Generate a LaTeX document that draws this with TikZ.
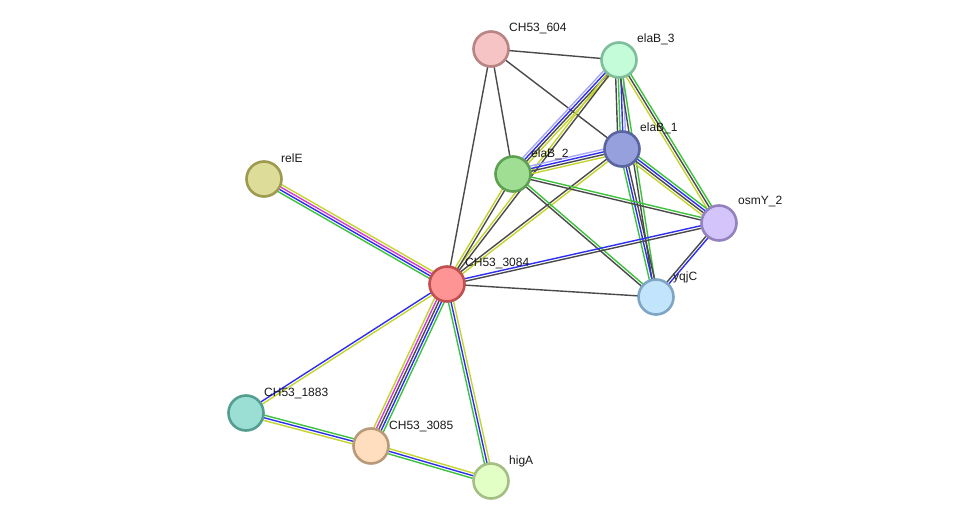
\documentclass[tikz,border=0pt]{standalone}
\usepackage{fontspec}
\setmainfont{Liberation Sans}
\usetikzlibrary{calc,backgrounds}

\definecolor{blk}{HTML}{4A4A4A}
\definecolor{yel}{HTML}{C4D42E}
\definecolor{grn}{HTML}{3CC23C}
\definecolor{blu}{HTML}{2E2EF2}
\definecolor{mag}{HTML}{D23CD2}
\definecolor{hom}{HTML}{A8A8FA}

\tikzset{
  prot/.style={circle, minimum size=35pt, inner sep=0pt, line width=2.6pt},
  lbl/.style={anchor=west, inner sep=0pt, font=\fontsize{12}{14}\selectfont, text=black!90},
  evid/.style={line width=1.4pt},
}

% #1,#2: nodes, #3: list of evidence colours
\newcommand{\ppi}[3]{%
  \foreach \c [count=\k] in {#3} {\xdef\nk{\k}}%
  \foreach \c [count=\k] in {#3} {%
    \pgfmathsetmacro{\off}{((\nk+1)/2-\k)*2.6}%
    \draw[evid, \c] ($(#1)!\off pt!90:(#2)$) -- ($(#2)!\off pt!-90:(#1)$);
  }}

\begin{document}
\begin{tikzpicture}[x=1pt, y=-1pt]
\useasboundingbox (0,0) rectangle (975,527);

\node[prot, fill={rgb,255:red,246;green,196;blue,196}, draw={rgb,255:red,184;green,132;blue,132}] (c604) at (491,49) {};
\node[prot, fill={rgb,255:red,196;green,252;blue,218}, draw={rgb,255:red,126;green,190;blue,154}] (elaB3) at (619,60) {};
\node[prot, fill={rgb,255:red,150;green,160;blue,220}, draw={rgb,255:red,90;green,100;blue,160}] (elaB1) at (622,149) {};
\node[prot, fill={rgb,255:red,160;green,222;blue,148}, draw={rgb,255:red,94;green,160;blue,82}] (elaB2) at (513,174) {};
\node[prot, fill={rgb,255:red,222;green,220;blue,153}, draw={rgb,255:red,158;green,154;blue,80}] (relE) at (264,179) {};
\node[prot, fill={rgb,255:red,212;green,196;blue,252}, draw={rgb,255:red,148;green,130;blue,190}] (osmY2) at (719,223) {};
\node[prot, fill={rgb,255:red,255;green,148;blue,148}, draw={rgb,255:red,192;green,80;blue,80}] (c3084) at (447,284) {};
\node[prot, fill={rgb,255:red,195;green,229;blue,251}, draw={rgb,255:red,126;green,166;blue,196}] (yqjC) at (656,297) {};
\node[prot, fill={rgb,255:red,155;green,223;blue,212}, draw={rgb,255:red,84;green,158;blue,144}] (c1883) at (246,413) {};
\node[prot, fill={rgb,255:red,255;green,222;blue,192}, draw={rgb,255:red,184;green,154;blue,120}] (c3085) at (371,446) {};
\node[prot, fill={rgb,255:red,226;green,255;blue,197}, draw={rgb,255:red,164;green,190;blue,132}] (higA) at (491,481) {};

\node[lbl] (l604) at ($(c604)+(18,-20)$) {CH53\_604};
\node[lbl] (l3) at ($(elaB3)+(18,-21)$) {elaB\_3};
\node[lbl] (l1) at ($(elaB1)+(18,-21)$) {elaB\_1};
\node[lbl] (l2) at ($(elaB2)+(18,-20)$) {elaB\_2};
\node[lbl] (lrelE) at ($(relE)+(17,-21)$) {relE};
\node[lbl] (losmY) at ($(osmY2)+(19,-21)$) {osmY\_2};
\node[lbl] (l3084) at ($(c3084)+(18,-20)$) {CH53\_3084};
\node[lbl] (lyqjC) at ($(yqjC)+(17,-20)$) {yqjC};
\node[lbl] (l1883) at ($(c1883)+(18,-20)$) {CH53\_1883};
\node[lbl] (l3085) at ($(c3085)+(18,-20)$) {CH53\_3085};
\node[lbl] (lhigA) at ($(higA)+(18,-20)$) {higA};

\begin{scope}[on background layer]
  \ppi{relE}{c3084}{yel,mag,blu,grn}
  \ppi{c3084}{c1883}{yel,blu}
  \ppi{c3084}{c3085}{grn,blu,blk,mag,yel}
  \ppi{c3084}{higA}{yel,blu,grn}
  \ppi{c1883}{c3085}{grn,blu,yel}
  \ppi{c3085}{higA}{yel,blu,grn}
  \ppi{c604}{elaB3}{blk}
  \ppi{c604}{elaB1}{blk}
  \ppi{c604}{elaB2}{blk}
  \ppi{c604}{c3084}{blk}
  \ppi{elaB3}{elaB2}{yel,blk,blu,hom}
  \ppi{elaB3}{c3084}{blk,yel}
  \ppi{elaB3}{elaB1}{hom,blu,grn,blk}
  \ppi{elaB3}{osmY2}{grn,blk,yel}
  \ppi{elaB3}{yqjC}{grn,blk}
  \ppi{elaB1}{elaB2}{yel,blk,blu,hom}
  \ppi{elaB1}{osmY2}{grn,blu,blk,yel}
  \ppi{elaB1}{yqjC}{blk,blu,grn}
  \ppi{elaB1}{c3084}{yel,blk}
  \ppi{elaB2}{c3084}{blk,yel}
  \ppi{elaB2}{osmY2}{grn,blk}
  \ppi{elaB2}{yqjC}{grn,blk}
  \ppi{c3084}{osmY2}{blu,blk}
  \ppi{c3084}{yqjC}{blk}
  \ppi{osmY2}{yqjC}{blu,blk}
\end{scope}
\end{tikzpicture}
\end{document}
